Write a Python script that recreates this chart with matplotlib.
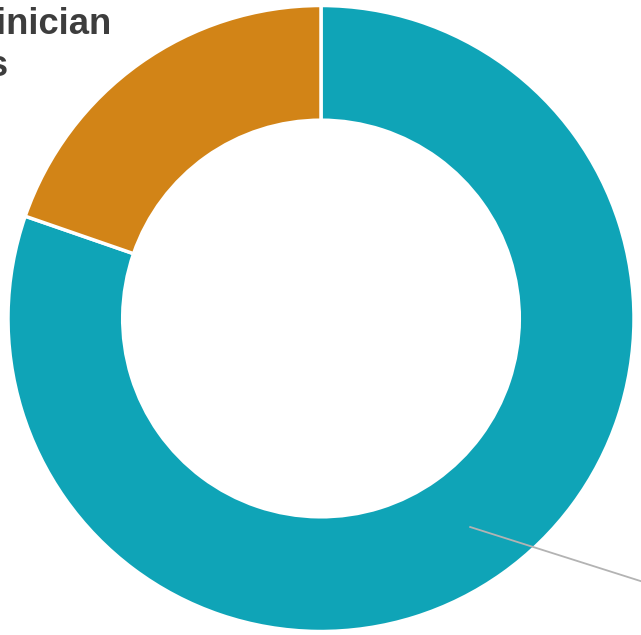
import matplotlib
matplotlib.use('Agg')
import matplotlib.pyplot as plt
import numpy as np

categories = ['Clinician Visits', 'Non-clinician\nDrivers']
values = [80.3, 19.7]
colors = ['#0fa4b7', '#d28417']

W, H = 641, 635
fig = plt.figure(figsize=(W / 100, H / 100), dpi=100)
ax = fig.add_axes([0, 0, 1, 1])
cx, cy, R = 321, 318.5, 313.0
ring_w = (313 - 198.3) / 313

wedges, _ = ax.pie(values, colors=colors, startangle=90, counterclock=False,
                   radius=1, wedgeprops=dict(width=ring_w, edgecolor='white', linewidth=2.5))
ax.set_xlim(-cx / R, (W - cx) / R)
ax.set_ylim(-(H - cy) / R, cy / R)
ax.set_aspect('equal')
ax.axis('off')

def px(x, y):
    return ((x - cx) / R, (cy - y) / R)

# leader line for teal slice
w0 = wedges[0]
th = np.deg2rad((w0.theta1 + w0.theta2) / 2)
rm = 1 - ring_w / 2
x0, y0 = rm * np.cos(th), rm * np.sin(th)
ang = np.deg2rad(-17.6)
L = 1.0
x1, y1 = x0 + L * np.cos(ang), y0 + L * np.sin(ang)
ax.plot([x0, x1], [y0, y1], color='#b3b3b3', lw=1.3, solid_capstyle='butt', zorder=5, clip_on=False)

# label for orange slice
tx, ty = px(-116.6, 76)
ax.text(tx, ty, categories[1], ha='left', va='baseline', fontsize=26.2,
        fontweight='bold', color='#3d3d3d', family=['Liberation Sans', 'DejaVu Sans'],
        linespacing=1.25, zorder=6)

fig.savefig('out.png', dpi=100)
